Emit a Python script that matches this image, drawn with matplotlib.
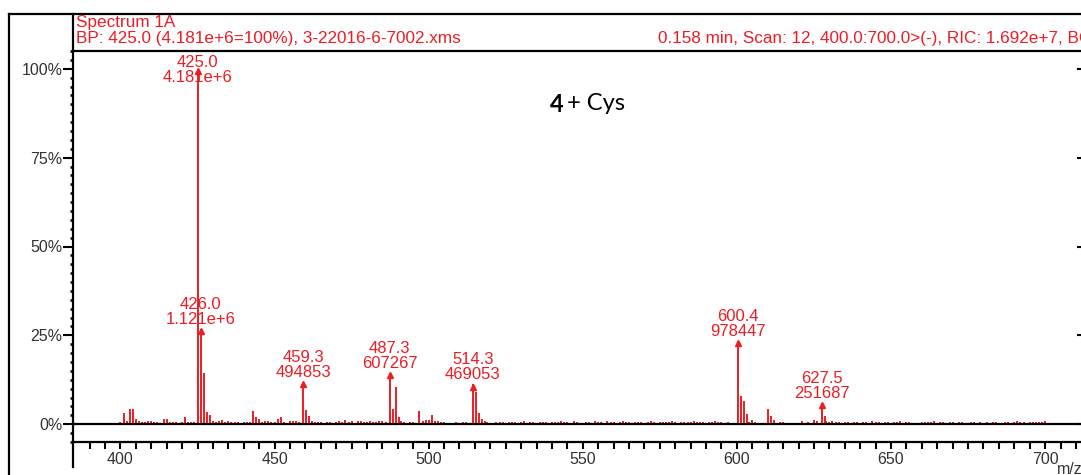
import numpy as np
import matplotlib
matplotlib.use("Agg")
from matplotlib import pyplot as plt
from matplotlib.lines import Line2D

# spectrum data (relative intensity in %)
major_mz = [425.0, 426.0, 427.0, 428.0, 429.0, 459.3, 460.3, 461.3,
            487.3, 488.3, 489.3, 490.3, 514.3, 515.3, 516.3, 517.3, 518.3,
            600.4, 601.4, 602.4, 603.4, 627.5, 628.5]
major_pct = [100.0, 26.8, 14.3, 3.3, 2.5, 11.8, 3.9, 2.3,
             14.5, 4.4, 10.5, 2.0, 11.2, 9.1, 3.2, 1.5, 0.8,
             23.4, 8.0, 6.4, 2.9, 6.0, 2.4]

# labelled peaks
label_mz = [425.0, 426.0, 459.3, 487.3, 514.3, 600.4, 627.5]
label_int = ["4.181e+6", "1.121e+6", "494853", "607267", "469053", "978447", "251687"]

# small peaks, one per m/z unit from 400 to 700
noise_start = 400
noise_pct = [
    0.5, 3.2, 0.8, 4.2, 4.2, 1.6, 0.9, 0.7, 0.5, 1.0,   # 400
    1.0, 0.6, 0.5, 0.4, 1.5, 1.5, 0.6, 0.5, 0.7, 0.4,   # 410
    0.6, 1.9, 0.7, 0.5, 0.6, 0, 0, 0, 0, 0,             # 420
    1.0, 0.6, 0.8, 1.2, 0.6, 0.9, 0.7, 0.6, 0.5, 0.4,   # 430
    0.6, 0.5, 0.5, 3.7, 2.0, 1.4, 0.6, 1.0, 0.8, 0.6,   # 440
    0.7, 1.4, 2.0, 0.7, 0.4, 0.9, 1.0, 0.9, 0.6, 0,     # 450
    0, 0, 1.0, 0.7, 0.5, 0.6, 0.4, 0.5, 0.7, 0.4,       # 460
    0.6, 1.0, 0.5, 1.3, 0.6, 0.8, 0.4, 0.9, 0.8, 0.7,   # 470
    0.6, 0.8, 0.5, 0.6, 0.9, 0.8, 0.6, 0, 0, 0,         # 480
    0, 0.8, 0.5, 0.4, 0.5, 0.6, 0.4, 3.8, 0.8, 1.2,     # 490
    1.1, 2.7, 1.0, 1.0, 0.6, 0.7, 0.4, 0.3, 0, 0.5,     # 500
    0.4, 0.5, 0.6, 0.4, 0, 0, 0, 0, 0, 0.5,             # 510
    0.4, 0.3, 0.5, 0.6, 0.5, 0.4, 0.7, 0.5, 0.6, 0.4,   # 520
    0.5, 0.8, 0.4, 0.6, 0.5, 0.4, 0.7, 0.5, 0.6, 0.4,   # 530
    0.5, 0.7, 0.6, 0.8, 0.5, 0.6, 0.4, 0.8, 0.5, 0.3,   # 540
    0.4, 0.6, 0.5, 0.4, 0.8, 0.6, 0.7, 0.4, 0.9, 0.6,   # 550
    0.5, 0.4, 0.7, 1.0, 0.6, 0.5, 0.4, 0.6, 0.5, 0.7,   # 560
    0.4, 0.6, 0.9, 0.5, 0.4, 0.6, 0.5, 0.7, 0.5, 0.8,   # 570
    0.6, 0.4, 0.5, 0.7, 0.6, 0.5, 0.9, 0.6, 0.5, 0.7,   # 580
    0.4, 0.6, 0.5, 0.8, 0.5, 0.6, 0.4, 0.5, 0.3, 0.4,   # 590
    0, 0, 0, 0, 0.5, 1.2, 0.6, 0.4, 0.3, 0.4,           # 600
    4.2, 2.2, 1.2, 0.4, 0.5, 0.6, 0.4, 0, 0, 0,         # 610
    0.3, 0.9, 0.4, 0.5, 0.4, 1.3, 1.0, 0, 0, 1.0,       # 620
    0.6, 0.8, 0.5, 0.7, 0.4, 0.6, 0.5, 0.4, 0.7, 0.5,   # 630
    0.4, 0.6, 0.5, 0.4, 0.8, 0.5, 0.6, 0.4, 0.7, 0.5,   # 640
    0.4, 0.6, 0.5, 0.8, 0.4, 0.6, 0.5, 0.3, 0.4, 0.3,   # 650
    0.5, 0.7, 0.6, 0.5, 0.8, 0.4, 0.5, 0.6, 0.4, 0.5,   # 660
    0.6, 0.4, 0.5, 0.7, 0.4, 0.3, 0.5, 0.6, 0.4, 0.5,   # 670
    0.3, 0.5, 0.4, 0.6, 0.5, 0.3, 0.4, 0.5, 0.6, 0.4,   # 680
    0.5, 0.9, 0.6, 0.5, 0.4, 0.6, 0.5, 0.7, 0.6, 0.5,   # 690
    1.0,                                                 # 700
]
noise_mz = noise_start + np.arange(len(noise_pct))

header_left = ["Spectrum 1A", "BP: 425.0 (4.181e+6=100%), 3-22016-6-7002.xms"]
header_right = "0.158 min, Scan: 12, 400.0:700.0>(-), RIC: 1.692e+7, BC"

RED = "#ec1c24"
plt.rcParams['font.family'] = ['Liberation Sans', 'DejaVu Sans']

W, H = 1081, 475
fig = plt.figure(figsize=(W / 100, H / 100), dpi=100)
ax = fig.add_axes([73 / W, 33 / H, 1010 / W, 391 / H])

nz = np.array(noise_pct) > 0
ax.vlines(noise_mz[nz], 0, np.array(noise_pct)[nz], color=RED, lw=1.4, zorder=2)
ax.vlines(major_mz, 0, major_pct, color=RED, lw=1.4, zorder=2)
ax.axhline(0, color="black", lw=1.6, zorder=3)

# arrow heads and labels on the annotated peaks
for mz, lab in zip(label_mz, label_int):
    pct = major_pct[major_mz.index(mz)]
    ax.plot(mz, pct - 0.6, marker="^", ms=4.5, color=RED, zorder=4)
    ty = min(pct + 0.6, 95.3)
    ax.text(mz, ty, f"{mz:.1f}\n{lab}", ha="center", va="bottom", color=RED,
            fontsize=12, linespacing=1.0, zorder=5)

ax.set_xlim(384.6, 712.3)
ax.set_ylim(-5, 105)
ax.set_xticks(np.arange(400, 701, 50))
ax.set_xticks(np.arange(390, 711, 5), minor=True)
ax.set_yticks([0, 25, 50, 75, 100])
ax.set_yticklabels(["0%", "25%", "50%", "75%", "100%"])
ax.set_yticks(np.arange(-5, 105.1, 2.5), minor=True)

ax.tick_params(axis="x", which="both", length=5, width=1.5, pad=2,
               labelsize=11.5, labelcolor="#333333")
ax.tick_params(axis="y", which="major", length=7, width=1.5, pad=0.5,
               labelsize=11.5, labelcolor="#333333")
ax.tick_params(axis="y", which="minor", length=2.5, width=1.8)
for s in ax.spines.values():
    s.set_linewidth(1.6)

sec = ax.secondary_yaxis("right")
sec.set_yticks([0, 25, 50, 75, 100])
sec.tick_params(direction="in", length=4, width=1.5, labelright=False)

# header and frame
fig.text(76 / W, 1 - 22 / H, header_left[0], color=RED, fontsize=12.3, va="center")
fig.text(76 / W, 1 - 39 / H, header_left[1], color=RED, fontsize=12.3, va="center")
fig.text(658 / W, 1 - 39 / H, header_right, color=RED, fontsize=12.3, va="center")

tf = fig.transFigure
fig.add_artist(Line2D([9 / W, 9 / W], [0, 1 - 14 / H], color="black", lw=1.6, transform=tf))
fig.add_artist(Line2D([9 / W, 1], [1 - 14 / H, 1 - 14 / H], color="black", lw=1.6, transform=tf))
fig.add_artist(Line2D([73 / W, 73 / W], [1 - 14 / H, 1 - 51 / H], color="black", lw=1.6, transform=tf))
fig.add_artist(Line2D([73 / W, 73 / W], [1 - 442 / H, 1 - 467 / H], color="black", lw=1.6, transform=tf))

fig.text(1057 / W, 1 - 469 / H, "m/z", fontsize=11.5, color="#333333", va="center")

fig.text(550 / W, 1 - 104 / H, "4", family="Lato", fontweight="bold", fontsize=17, va="center")
fig.text(567 / W, 1 - 104 / H, "+ Cys", family="Lato", fontsize=17, va="center")

fig.savefig("out.png", dpi=100)
